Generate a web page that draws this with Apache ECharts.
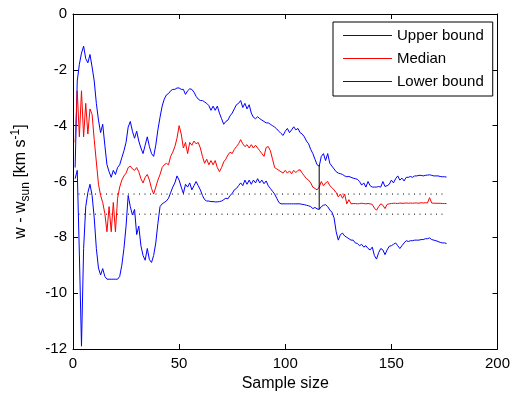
<!DOCTYPE html>
<html>
<head>
<meta charset="utf-8">
<script src="https://cdn.jsdelivr.net/npm/echarts@6/dist/echarts.min.js"></script>
<style>html,body{margin:0;padding:0;background:#fff}#c{width:513px;height:397px}</style>
</head>
<body>
<div id="c"></div>
<script>
// ---- data ----
var seriesNames = ['Upper bound', 'Median', 'Lower bound'];
var xTicks = [0, 50, 100, 150, 200];
var yTicks = [-12, -10, -8, -6, -4, -2, 0];
var upperBound = [
-5.5,-2.4,-1.8,-1.4,-1.15,-1.6,-1.75,-1.45,-1.9,-2.4,
-3.2,-3.8,-4.25,-3.95,-4.7,-5.4,-5.65,-5.85,-5.6,-5.75,
-5.5,-5.4,-5.15,-4.9,-4.6,-4.05,-3.85,-4.2,-4.45,-4.2,
-4.55,-4.8,-5.0,-4.7,-4.4,-4.75,-5.0,-5.1,-4.7,-4.15,
-3.7,-3.3,-3.05,-2.9,-2.85,-2.75,-2.7,-2.7,-2.65,-2.65,
-2.7,-2.7,-2.88,-2.75,-2.68,-2.7,-2.8,-2.95,-3.05,-3.1,
-3.1,-3.15,-3.2,-3.28,-3.45,-3.3,-3.45,-3.3,-3.55,-3.75,
-3.95,-3.85,-3.8,-3.65,-3.55,-3.4,-3.25,-3.2,-3.1,-3.35,
-3.2,-3.4,-3.25,-3.55,-3.7,-3.75,-3.68,-3.75,-3.8,-3.85,
-3.9,-3.9,-3.95,-4.0,-4.05,-4.12,-4.2,-4.28,-4.35,-4.2,
-4.1,-4.25,-4.15,-4.04,-4.15,-4.1,-4.25,-4.3,-4.4,-4.55,
-4.65,-4.85,-5.0,-5.2,-5.4,-5.45,-5.1,-5.0,-5.25,-5.0,
-5.35,-5.45,-5.55,-5.65,-5.7,-5.72,-5.75,-5.8,-5.83,-5.82,
-5.85,-5.88,-5.9,-5.92,-6.0,-6.13,-6.05,-6.2,-6.0,-6.15,
-6.2,-6.2,-6.2,-6.18,-6.2,-6.0,-6.18,-6.15,-6.1,-5.95,
-6.05,-5.9,-5.8,-5.95,-5.88,-5.98,-5.85,-5.85,-5.82,-5.85,
-5.8,-5.8,-5.78,-5.78,-5.8,-5.78,-5.77,-5.76,-5.78,-5.8,
-5.8,-5.8,-5.82,-5.83,-5.83,-5.84
];
var median = [
-4.6,-2.75,-4.4,-2.75,-4.4,-3.2,-4.3,-3.4,-3.6,-4.5,
-5.3,-6.1,-6.5,-6.75,-7.15,-7.8,-6.9,-7.8,-6.75,-7.8,
-6.6,-6.2,-5.95,-5.8,-5.7,-5.5,-5.45,-5.55,-5.6,-5.5,
-5.65,-5.9,-6.05,-5.85,-5.75,-5.95,-6.25,-6.45,-6.2,-5.95,
-5.75,-5.5,-5.4,-5.35,-5.4,-5.1,-4.95,-4.75,-4.45,-4.0,
-4.3,-4.8,-4.6,-5.0,-4.6,-4.7,-4.55,-4.65,-4.6,-4.8,
-5.1,-5.35,-5.2,-5.4,-5.25,-5.4,-5.25,-5.5,-5.65,-5.5,
-5.3,-5.2,-5.05,-4.95,-5.0,-4.85,-4.75,-4.65,-4.5,-4.65,
-4.75,-4.68,-4.8,-4.68,-4.8,-4.7,-4.8,-4.9,-5.0,-5.1,
-4.78,-4.75,-4.9,-5.2,-5.5,-5.55,-5.6,-5.65,-5.7,-5.6,
-5.7,-5.62,-5.72,-5.6,-5.68,-5.6,-5.58,-5.7,-5.8,-5.9,
-5.95,-6.05,-6.2,-6.25,-6.3,-6.2,-6.0,-6.15,-6.05,-6.0,
-6.15,-6.22,-6.3,-6.4,-6.55,-6.45,-6.6,-6.45,-6.8,-6.65,
-6.8,-6.79,-6.79,-6.8,-6.79,-6.78,-6.79,-6.8,-6.79,-6.8,
-6.82,-6.95,-7.03,-6.9,-6.8,-6.85,-6.97,-6.82,-6.8,-6.79,
-6.78,-6.78,-6.79,-6.77,-6.78,-6.78,-6.77,-6.78,-6.77,-6.78,
-6.77,-6.77,-6.78,-6.76,-6.77,-6.76,-6.77,-6.58,-6.77,-6.78,
-6.78,-6.78,-6.78,-6.79,-6.79,-6.79
];
var lowerBound = [
-5.9,-5.6,-8.6,-11.9,-8.4,-6.9,-6.4,-6.1,-6.5,-7.3,
-8.4,-9.1,-9.35,-9.12,-9.4,-9.5,-9.5,-9.5,-9.5,-9.5,
-9.5,-9.4,-9.0,-8.4,-7.6,-6.5,-6.9,-7.2,-7.0,-7.9,
-7.6,-8.3,-8.65,-8.82,-8.4,-8.8,-8.9,-8.65,-8.2,-7.5,
-6.9,-6.8,-6.75,-6.7,-6.6,-6.4,-6.2,-6.05,-5.8,-5.95,
-6.2,-6.43,-6.1,-6.2,-6.05,-6.3,-6.15,-6.0,-6.15,-6.3,
-6.5,-6.65,-6.7,-6.7,-6.72,-6.72,-6.73,-6.73,-6.72,-6.7,
-6.65,-6.6,-6.62,-6.5,-6.43,-6.3,-6.25,-6.15,-6.05,-6.15,
-5.95,-6.1,-5.95,-6.1,-5.95,-6.05,-5.9,-6.05,-5.95,-6.08,
-5.98,-6.15,-6.25,-6.35,-6.45,-6.6,-6.75,-6.8,-6.8,-6.8,
-6.8,-6.8,-6.8,-6.8,-6.8,-6.8,-6.8,-6.82,-6.83,-6.85,
-6.87,-6.9,-6.97,-6.93,-6.98,-7.0,-6.9,-6.85,-6.83,-6.9,
-7.02,-7.1,-7.3,-7.8,-8.1,-7.9,-7.85,-7.95,-8.0,-8.05,
-8.1,-8.1,-8.2,-8.22,-8.3,-8.25,-8.35,-8.3,-8.4,-8.45,
-8.35,-8.65,-8.78,-8.55,-8.4,-8.45,-8.62,-8.45,-8.32,-8.3,
-8.25,-8.2,-8.3,-8.4,-8.3,-8.2,-8.12,-8.15,-8.12,-8.12,
-8.1,-8.1,-8.1,-8.08,-8.08,-8.05,-8.05,-8.02,-8.08,-8.1,
-8.12,-8.15,-8.18,-8.2,-8.2,-8.22
];
var refLevels = [-6.45, -7.17];
var refRangeX = [0, 175];
var markerX = 116;
var markerRange = [-5.42, -7.0];
// ---- chart ----
var sampleSize = upperBound.map(function (_, i) { return i + 1; });
function pairs(arr) { return arr.map(function (v, i) { return [sampleSize[i], v]; }); }
var FONT = "'Liberation Sans', Arial, sans-serif";
var chart = echarts.init(document.getElementById('c'), null, { renderer: 'canvas' });
var axisCommon = {
  axisLine: { show: true, onZero: false, lineStyle: { color: '#000', width: 1 } },
  axisTick: { show: true, inside: true, length: 5, lineStyle: { color: '#000' } },
  splitLine: { show: false }
};
var colors = ['#0000ff', '#ff0000', '#0000ff'];
var dataSets = [upperBound, median, lowerBound];
var series = [];
refLevels.forEach(function (y, i) {
  series.push({
    name: 'ref' + i, type: 'line', symbol: 'none', silent: true, z: 2,
    data: [[refRangeX[0], y], [refRangeX[1], y]],
    lineStyle: { color: '#000', width: 1, type: [1, 4.5] }, itemStyle: { color: '#000' }
  });
});
series.push({
  name: 'marker', type: 'line', symbol: 'none', silent: true, z: 4,
  data: [[markerX, markerRange[0]], [markerX, markerRange[1]]],
  lineStyle: { color: '#000', width: 1 }, itemStyle: { color: '#000' }
});
dataSets.forEach(function (d, k) {
  series.push({
    name: seriesNames[k], type: 'line', data: pairs(d), symbol: 'none',
    lineStyle: { color: colors[k], width: 1 }, itemStyle: { color: colors[k] },
    silent: true, z: 3
  });
});
chart.setOption({
  animation: false,
  backgroundColor: '#fff',
  textStyle: { fontFamily: FONT },
  grid: { left: 73, right: 13, top: 14, bottom: 48 },
  legend: {
    data: seriesNames, selectedMode: false,
    left: 333, top: 22, orient: 'vertical',
    icon: 'rect', itemWidth: 49, itemHeight: 1, itemGap: 6,
    padding: [5, 9, 6, 10],
    backgroundColor: '#fff', borderColor: '#000', borderWidth: 1,
    textStyle: { fontSize: 15, color: '#000', fontFamily: FONT, lineHeight: 17 }
  },
  xAxis: [
    Object.assign({
      type: 'value', min: 0, max: 200, interval: 50, position: 'bottom',
      name: 'Sample size', nameLocation: 'middle', nameGap: 25,
      nameTextStyle: { fontSize: 16, color: '#000', fontFamily: FONT },
      axisLabel: { fontSize: 15, color: '#000', margin: 7, fontFamily: FONT }
    }, axisCommon),
    Object.assign({
      type: 'value', min: 0, max: 200, interval: 50, position: 'top',
      axisLabel: { show: false }
    }, axisCommon)
  ],
  yAxis: [
    Object.assign({
      type: 'value', min: -12, max: 0, interval: 2, position: 'left',
      name: '{m|w - w}{sub|sun}{m| [km s}{sup|-1}{m|]}',
      nameLocation: 'middle', nameGap: 41, nameRotate: 90,
      nameTextStyle: {
        color: '#000', fontFamily: FONT, fontSize: 16,
        rich: {
          m: { fontSize: 16, lineHeight: 22, verticalAlign: 'middle', color: '#000', fontFamily: FONT },
          sub: { fontSize: 12, lineHeight: 12, verticalAlign: 'bottom', color: '#000', fontFamily: FONT },
          sup: { fontSize: 12, lineHeight: 12, verticalAlign: 'top', color: '#000', fontFamily: FONT }
        }
      },
      axisLabel: { fontSize: 15, color: '#000', margin: 6, fontFamily: FONT }
    }, axisCommon),
    Object.assign({
      type: 'value', min: -12, max: 0, interval: 2, position: 'right',
      axisLabel: { show: false }
    }, axisCommon)
  ],
  series: series
});
</script>
</body>
</html>
